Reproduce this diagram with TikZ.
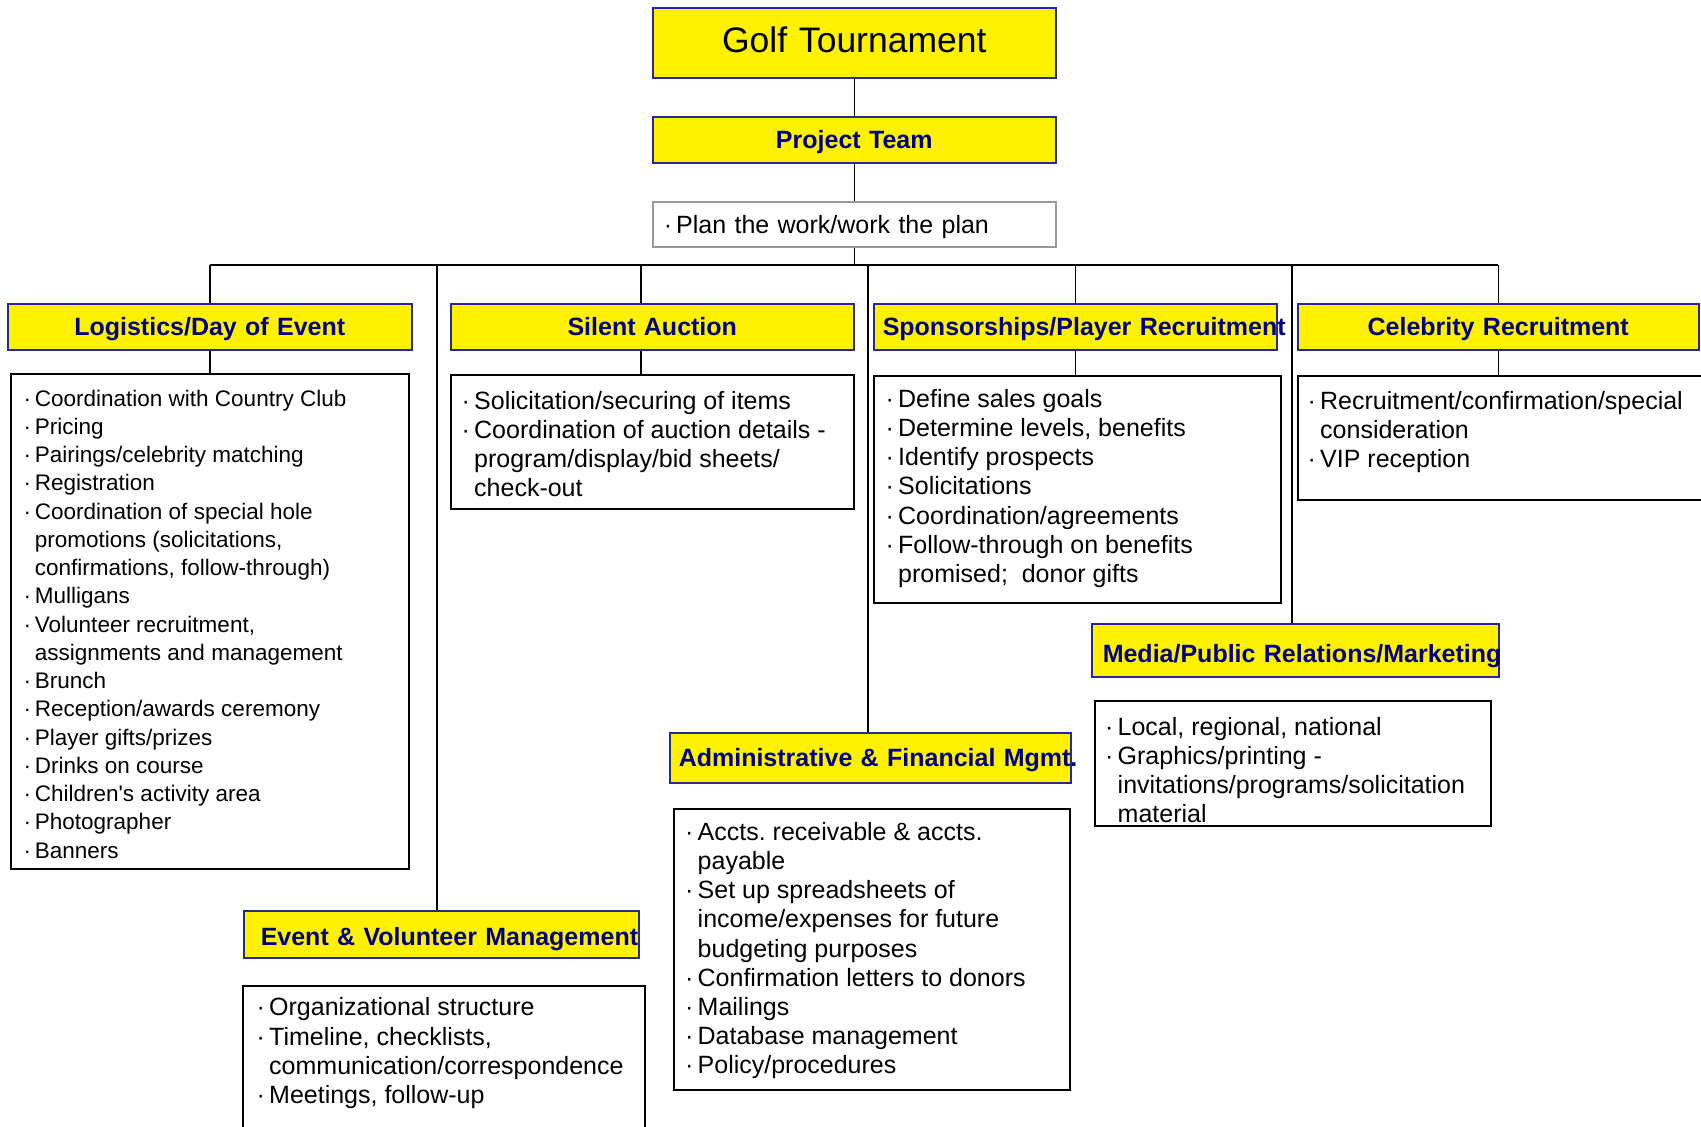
\documentclass[tikz,border=0pt]{standalone}
\usepackage{fontspec}
\setmainfont{Liberation Sans}
\usetikzlibrary{positioning}
\definecolor{navy}{RGB}{0,0,128}
\definecolor{hdrline}{RGB}{40,40,150}
\newcommand{\bul}{\makebox[0.5em][l]{·}}
\newcommand{\ind}{\hspace*{0.5em}}
\frenchspacing

\begin{document}
\begin{tikzpicture}[x=1pt,y=-1pt,
    hdr/.style={draw=hdrline, line width=1.5pt, fill=yellow, text=navy,
      font=\bfseries\fontsize{25}{29}\selectfont, anchor=north west,
      inner xsep=9pt, inner ysep=0pt, text height=18pt, text depth=0pt,
      align=center, minimum height=46pt},
    listbox/.style={draw, line width=1.5pt, anchor=north west, inner sep=0pt},
    listtext/.style={anchor=north west, inner sep=0pt, align=left,
      font=\fontsize{25}{29.2}\selectfont, execute at begin node=\rule{0pt}{20pt}},
    link/.style={line width=1.5pt}]
  \useasboundingbox (0,0) rectangle (1701,1127);

  \node[hdr, text=black, font=\fontsize{35.5}{40}\selectfont, text width=385pt,
    minimum height=70pt, text height=25.5pt, text depth=6pt] (golf) at (652,7) {Golf Tournament};
  \node[hdr, text width=385pt] (team) at (652,116) {Project Team};
  \node[draw=gray!80, line width=1.5pt, anchor=north west, text width=381pt,
    inner xsep=11pt, inner ysep=0pt, minimum height=45pt, text height=18pt,
    text depth=0pt, align=left, font=\fontsize{25}{29}\selectfont] (plan) at (652,201)
    {\bul Plan the work/work the plan};

  \coordinate (bus) at (853.5,265);
  \coordinate (aucdrop) at (641,265);
  \coordinate (evdrop) at (437,265);
  \coordinate (admdrop) at (868,265);
  \coordinate (meddrop) at (1292,265);

  \node[hdr, text width=386pt] (logist) at (7,303) {Logistics/Day of Event};
  \node[hdr, text width=385pt] (auction) at (450,303) {Silent Auction};
  \node[hdr, text width=385pt] (sponsor) at (873,303) {\mbox{Sponsorships/Player Recruitment}};
  \node[hdr, text width=383pt] (celeb) at (1297,303) {Celebrity Recruitment};
  \node[hdr, inner xsep=11pt, text width=385pt, minimum height=53pt, text height=25pt]
    (media) at (1091,623) {\mbox{Media/Public Relations/Marketing}};
  \node[hdr, text width=383pt, minimum height=50pt] (admin) at (669,732)
    {\mbox{Administrative \& Financial Mgmt.}};
  \node[hdr, inner xsep=17pt, text width=361pt, minimum height=47pt, text height=23pt]
    (event) at (243,910) {\mbox{Event \& Volunteer Management}};

  \node[listbox, minimum width=398pt, minimum height=495pt] (logistlist) at (10,373) {};
  \node[listbox, minimum width=403pt, minimum height=134pt] (auctionlist) at (450,374) {};
  \node[listbox, minimum width=407pt, minimum height=227pt] (sponsorlist) at (873,375) {};
  \node[listbox, minimum width=412pt, minimum height=124pt] (caleblist) at (1297,375) {};
  \node[listbox, minimum width=396pt, minimum height=125pt] (medialist) at (1094,700) {};
  \node[listbox, minimum width=396pt, minimum height=281pt] (adminlist) at (673,808) {};
  \node[listbox, minimum width=402pt, minimum height=150pt] (eventlist) at (242,985) {};

  \node[listtext, font=\fontsize{22.5}{28.25}\selectfont] (logisttxt) at (23.5,389.7) {%
    \bul Coordination with Country Club\\
    \bul Pricing\\
    \bul Pairings/celebrity matching\\
    \bul Registration\\
    \bul Coordination of special hole\\
    \ind promotions (solicitations,\\
    \ind confirmations, follow-through)\\
    \bul Mulligans\\
    \bul Volunteer recruitment,\\
    \ind assignments and management\\
    \bul Brunch\\
    \bul Reception/awards ceremony\\
    \bul Player gifts/prizes\\
    \bul Drinks on course\\
    \bul Children\textquotesingle s activity area\\
    \bul Photographer\\
    \bul Banners};
  \node[listtext] (auctiontxt) at (461.5,391) {%
    \bul Solicitation/securing of items\\
    \bul Coordination of auction details -\\
    \ind program/display/bid sheets/\\
    \ind check-out};
  \node[listtext] (sponsortxt) at (885.5,389) {%
    \bul Define sales goals\\
    \bul Determine levels, benefits\\
    \bul Identify prospects\\
    \bul Solicitations\\
    \bul Coordination/agreements\\
    \bul Follow-through on benefits\\
    \ind promised;\ \ donor gifts};
  \node[listtext] (celebtxt) at (1307.5,391) {%
    \bul Recruitment/confirmation/special\\
    \ind consideration\\
    \bul VIP reception};
  \node[listtext] (mediatxt) at (1105,717) {%
    \bul Local, regional, national\\
    \bul Graphics/printing -\\
    \ind invitations/programs/solicitation\\
    \ind material};
  \node[listtext] (admintxt) at (685,822) {%
    \bul Accts. receivable \& accts.\\
    \ind payable\\
    \bul Set up spreadsheets of\\
    \ind income/expenses for future\\
    \ind budgeting purposes\\
    \bul Confirmation letters to donors\\
    \bul Mailings\\
    \bul Database management\\
    \bul Policy/procedures};
  \node[listtext] (eventtxt) at (256.5,997.5) {%
    \bul Organizational structure\\
    \bul Timeline, checklists,\\
    \ind communication/correspondence\\
    \bul Meetings, follow-up};

  \draw[link] (golf) -- (team);
  \draw[link] (team) -- (plan);
  \draw[link] (plan.south) -- (plan.south |- bus);
  \draw[link] (logist.north |- bus) -- (celeb.north |- bus);
  \foreach \n in {logist,sponsor,celeb} {
    \draw[link] (\n.north |- bus) -- (\n.north);
  }
  \draw[link] (logist) -- (logistlist);
  \draw[link] (sponsor.south) -- (sponsor.south |- sponsorlist.north);
  \draw[link] (celeb.south) -- (celeb.south |- caleblist.north);
  \draw[link] (aucdrop) -- (aucdrop |- auction.north);
  \draw[link] (aucdrop |- auction.south) -- (aucdrop |- auctionlist.north);
  \draw[link] (evdrop) -- (evdrop |- event.north);
  \draw[link] (admdrop) -- (admdrop |- admin.north);
  \draw[link] (meddrop) -- (meddrop |- media.north);
\end{tikzpicture}
\end{document}
